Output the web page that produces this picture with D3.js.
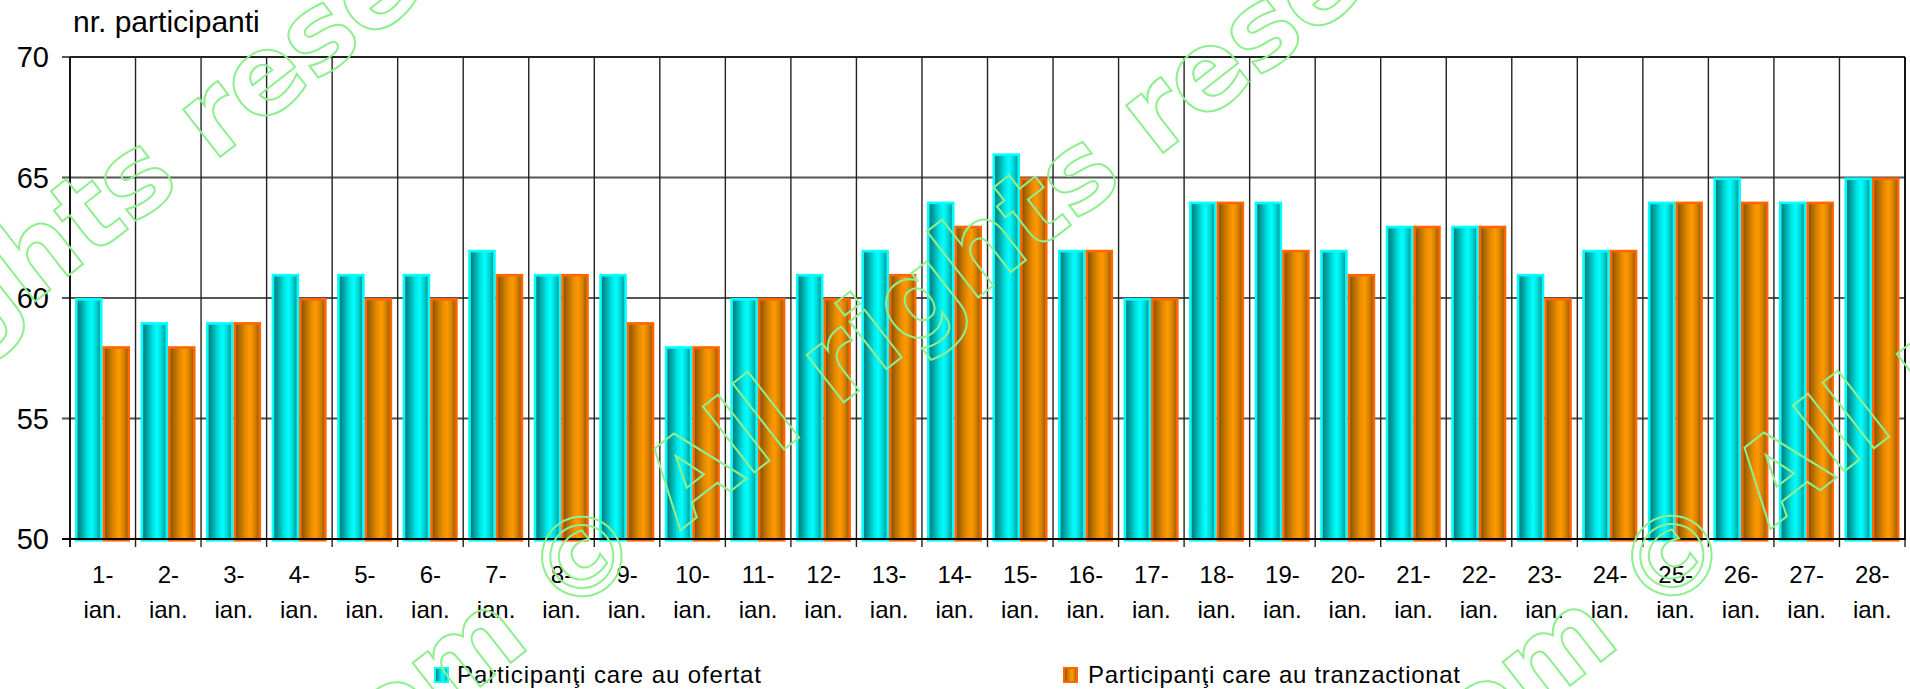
<!DOCTYPE html>
<html>
<head>
<meta charset="utf-8">
<script src="https://cdn.jsdelivr.net/npm/d3@7"></script>
<style>
  html, body { margin: 0; padding: 0; background: #fff; }
  svg { display: block; font-family: Arial, 'Liberation Sans', sans-serif; }
</style>
</head>
<body>
<div id="chart"></div>
<script>
// data
const days = ['1-ian.', '2-ian.', '3-ian.', '4-ian.', '5-ian.', '6-ian.', '7-ian.', '8-ian.', '9-ian.', '10-ian.',
  '11-ian.', '12-ian.', '13-ian.', '14-ian.', '15-ian.', '16-ian.', '17-ian.', '18-ian.', '19-ian.', '20-ian.',
  '21-ian.', '22-ian.', '23-ian.', '24-ian.', '25-ian.', '26-ian.', '27-ian.', '28-ian.']
const seriesNames = ['Participanţi care au ofertat', 'Participanţi care au tranzactionat']
const ofertat = [60, 59, 59, 61, 61, 61, 62, 61, 61, 58, 60, 61, 62, 64, 66, 62, 60, 64, 64, 62, 63, 63, 61, 62, 64, 65, 64, 65]
const tranzactionat = [58, 58, 59, 60, 60, 60, 61, 61, 59, 58, 60, 60, 61, 63, 65, 62, 60, 64, 62, 61, 63, 63, 60, 62, 64, 64, 64, 65]
const yTicks = [50, 55, 60, 65, 70]
const axisTitle = 'nr. participanti'
const watermarkText = 'opcom © All rights reserved'

const width = 1910
const height = 689
const plot = { left: 70, right: 1905, top: 57, bottom: 539 }

const svg = d3.select('#chart').append('svg')
  .attr('width', width)
  .attr('height', height)

// gradients for the cylinder-ish bars
const defs = svg.append('defs')
const gradients = [
  { id: 'g-cyan', stops: [[0, '#007070'], [0.15, '#009494'], [0.45, '#00e4e4'], [0.62, '#00ffff'], [0.8, '#00d4d4'], [1, '#008a8a']] },
  { id: 'g-orange', stops: [[0, '#7a4800'], [0.15, '#a56500'], [0.45, '#ea8d00'], [0.62, '#ff9900'], [0.8, '#d88200'], [1, '#8a5500']] }
]
gradients.forEach(g => {
  defs.append('linearGradient').attr('id', g.id)
    .attr('x1', '0%').attr('x2', '100%').attr('y1', '0%').attr('y2', '0%')
    .selectAll('stop').data(g.stops).join('stop')
    .attr('offset', d => d[0])
    .attr('stop-color', d => d[1])
})
const fills = ['url(#g-cyan)', 'url(#g-orange)']
const strokes = ['#00ffff', '#ff6600']

const x = d3.scaleBand().domain(days).range([plot.left, plot.right]).padding(0)
const y = d3.scaleLinear().domain([50, 70]).range([plot.bottom, plot.top])
const xs = d3.scaleBand().domain([0, 1]).range([5, x.bandwidth() - 5.5]).padding(0)

// horizontal grid
svg.append('g')
  .selectAll('line')
  .data(yTicks.filter(t => t > 50))
  .join('line')
  .attr('x1', plot.left - 8).attr('x2', plot.right)
  .attr('y1', d => y(d)).attr('y2', d => y(d))
  .attr('stroke', '#555').attr('stroke-width', 1.8)

// vertical grid at band edges
const edges = days.map(d => x(d)).concat([plot.right])
svg.append('g')
  .selectAll('line')
  .data(edges)
  .join('line')
  .attr('x1', d => d).attr('x2', d => d)
  .attr('y1', plot.top).attr('y2', plot.bottom + 8)
  .attr('stroke', '#222').attr('stroke-width', 1.4)

// bars
const rows = days.map((d, i) => ({ day: d, values: [ofertat[i], tranzactionat[i]] }))
const sw = 2.6
svg.append('g')
  .selectAll('g')
  .data(rows)
  .join('g')
  .attr('transform', d => `translate(${x(d.day)},0)`)
  .selectAll('rect')
  .data(d => d.values.map((v, k) => ({ k, v })))
  .join('rect')
  .attr('x', d => xs(d.k) + sw / 2)
  .attr('width', xs.bandwidth() - sw)
  .attr('y', d => y(d.v) + sw / 2)
  .attr('height', d => y(50) - y(d.v))
  .attr('fill', d => fills[d.k])
  .attr('stroke', d => strokes[d.k])
  .attr('stroke-width', sw)

// axes lines
svg.append('line')
  .attr('x1', plot.left).attr('x2', plot.left)
  .attr('y1', plot.top).attr('y2', plot.bottom + 8)
  .attr('stroke', '#000').attr('stroke-width', 1.6)
svg.append('line')
  .attr('x1', plot.left - 8).attr('x2', plot.right + 1)
  .attr('y1', plot.bottom).attr('y2', plot.bottom)
  .attr('stroke', '#000').attr('stroke-width', 1.8)
svg.append('line')
  .attr('x1', plot.left).attr('x2', plot.right)
  .attr('y1', plot.top).attr('y2', plot.top)
  .attr('stroke', '#222').attr('stroke-width', 1.8)
svg.append('line')
  .attr('x1', plot.right).attr('x2', plot.right)
  .attr('y1', plot.top).attr('y2', plot.bottom)
  .attr('stroke', '#000').attr('stroke-width', 1.6)

// y labels
svg.append('g')
  .selectAll('text')
  .data(yTicks)
  .join('text')
  .attr('x', 49)
  .attr('y', d => y(d) + 10)
  .attr('text-anchor', 'end')
  .attr('font-size', 29)
  .attr('fill', '#000')
  .text(d => d)

svg.append('text')
  .attr('x', 73).attr('y', 32)
  .attr('font-size', 30)
  .attr('fill', '#000')
  .text(axisTitle)

// x labels, two lines each
const xl = svg.append('g')
  .selectAll('text')
  .data(days)
  .join('text')
  .attr('text-anchor', 'middle')
  .attr('font-size', 24)
  .attr('fill', '#000')
xl.append('tspan')
  .attr('x', d => x(d) + x.bandwidth() / 2)
  .attr('y', 583)
  .text(d => d.split('-')[0] + '-')
xl.append('tspan')
  .attr('x', d => x(d) + x.bandwidth() / 2)
  .attr('y', 618)
  .text(d => d.split('-')[1])

// legend
const legendItems = [
  { x: 434, tx: 457, len: 304 },
  { x: 1063, tx: 1088, len: 372 }
]
legendItems.forEach((it, k) => {
  svg.append('rect')
    .attr('x', it.x + 1).attr('y', 668)
    .attr('width', 13).attr('height', 14)
    .attr('fill', fills[k]).attr('stroke', strokes[k]).attr('stroke-width', 2)
  svg.append('text')
    .attr('x', it.tx).attr('y', 683)
    .attr('font-size', 24)
    .attr('textLength', it.len)
    .attr('lengthAdjust', 'spacing')
    .attr('fill', '#000')
    .text(seriesNames[k])
})

// watermark (© centre of each copy)
const marks = [[-360, 562], [583, 558], [1673, 557]]
const cIdx = watermarkText.indexOf('©')
marks.forEach(([cx, cy]) => {
  const t = svg.append('g')
    .attr('transform', `translate(${cx},${cy}) rotate(-38)`)
    .append('text')
    .attr('font-family', "'DejaVu Sans', Verdana, sans-serif")
    .attr('font-size', 110)
    .attr('font-weight', 'bold')
    .attr('fill', 'none')
    .attr('stroke', '#8fef8f')
    .attr('stroke-width', 2)
    .text(watermarkText)
  const n = t.node()
  const off = n.getSubStringLength(0, cIdx) + n.getSubStringLength(cIdx, 1) / 2
  t.attr('x', -off).attr('y', 38)
})
</script>
</body>
</html>
